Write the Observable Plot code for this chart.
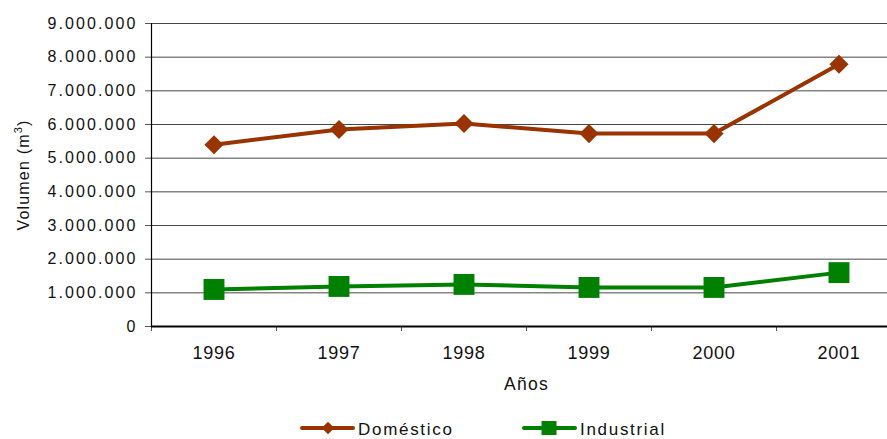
<!DOCTYPE html>
<html>
<head>
<meta charset="utf-8">
<script src="https://cdn.jsdelivr.net/npm/d3@7"></script>
<script src="https://cdn.jsdelivr.net/npm/@observablehq/plot@0.6"></script>
<style>
  html, body { margin: 0; padding: 0; background: #fff; overflow: hidden; }
  body { width: 887px; height: 439px; font-family: "Liberation Sans", Arial, sans-serif; }
  #chart svg text { fill: #111; }
  #chart svg .yax text { font-size: 16px; letter-spacing: 2.1px; }
  #chart svg .xax text { font-size: 18px; letter-spacing: 0.7px; }
  #chart svg .xlab text { font-size: 17.5px; letter-spacing: 1.3px; }
  #chart svg .ylab text { font-size: 16px; letter-spacing: 1.2px; }
  #legend { position: relative; width: 887px; height: 39px; font-size: 17px; letter-spacing: 1.7px; color: #111; }
  .item { position: absolute; top: 18px; height: 20px; }
  .item svg { position: absolute; left: 0; top: 0; }
  .item span { position: absolute; top: 2px; line-height: 20px; white-space: nowrap; }
</style>
</head>
<body>
<div id="chart"></div>
<div id="legend"></div>
<script>
const years = [1996, 1997, 1998, 1999, 2000, 2001];
const domestico = [5400000, 5850000, 6030000, 5730000, 5730000, 7790000];
const industrial = [1100000, 1190000, 1250000, 1160000, 1160000, 1600000];
const yTicks = [0, 1000000, 2000000, 3000000, 4000000, 5000000, 6000000, 7000000, 8000000, 9000000];
const seriesNames = ["Doméstico", "Industrial"];
const colors = ["#993300", "#008000"];

const dom = years.map((y, i) => ({year: y, value: domestico[i], serie: seriesNames[0]}));
const ind = years.map((y, i) => ({year: y, value: industrial[i], serie: seriesNames[1]}));
const boundaries = years.map(y => y - 0.5);

const fmt = v => v === 0 ? "0" : d3.format(",")(v).replace(/,/g, ".");

const chart = Plot.plot({
  width: 887,
  height: 400,
  marginTop: 23,
  marginBottom: 74,
  marginLeft: 151,
  marginRight: 0,
  style: {fontFamily: "'Liberation Sans', Arial, sans-serif", fontSize: "16px", color: "#111", background: "#fff", overflow: "hidden"},
  x: {type: "linear", domain: [1995.5, 2001.5], range: [151, 901]},
  y: {domain: [0, 9000000], range: [326, 23]},
  marks: [
    Plot.ruleY(yTicks.filter(d => d > 0), {stroke: "#000", strokeOpacity: 0.72, strokeWidth: 1}),
    Plot.axisY({ticks: yTicks, tickFormat: fmt, tickSize: 6, tickPadding: 8, label: null, stroke: "#555", fontSize: 16, className: "yax"}),
    Plot.axisX({ticks: years, tickSize: 0, tickPadding: 20, tickFormat: d => String(d), label: null, fontSize: 18, className: "xax"}),
    Plot.axisX({ticks: boundaries, tickSize: 5, tickFormat: () => "", label: null, stroke: "#555"}),
    Plot.ruleX([1995.5], {stroke: "#000", strokeWidth: 1.2}),
    Plot.ruleY([0], {stroke: "#000", strokeWidth: 2}),
    Plot.text(["Años"], {x: 1998.5, frameAnchor: "bottom", dy: 63, lineAnchor: "bottom", fontSize: 17.5, className: "xlab"}),
    Plot.text(["Volumen (m3)"], {frameAnchor: "left", dx: -123, rotate: -90, lineAnchor: "bottom", textAnchor: "middle", fontSize: 16, className: "ylab"}),
    Plot.line(dom, {x: "year", y: "value", stroke: colors[0], strokeWidth: 4}),
    Plot.line(ind, {x: "year", y: "value", stroke: colors[1], strokeWidth: 4}),
    Plot.dot(dom, {x: "year", y: "value", symbol: "diamond2", r: 8.6, fill: colors[0], stroke: "none"}),
    Plot.dot(ind, {x: "year", y: "value", symbol: "square", r: 11.8, fill: colors[1], stroke: "none"})
  ]
});
document.getElementById("chart").appendChild(chart);

// superscript in y label
const ylab = chart.querySelector(".ylab text");
if (ylab) {
  const ns = "http://www.w3.org/2000/svg";
  ylab.textContent = "";
  const t1 = document.createElementNS(ns, "tspan"); t1.textContent = "Volumen (m";
  const t2 = document.createElementNS(ns, "tspan"); t2.textContent = "3";
  t2.setAttribute("font-size", "11"); t2.setAttribute("dy", "-7");
  const t3 = document.createElementNS(ns, "tspan"); t3.textContent = ")"; t3.setAttribute("dy", "7");
  ylab.append(t1, t2, t3);
}

// Legend
const legend = document.getElementById("legend");
const items = [
  {name: seriesNames[0], color: colors[0], left: 300, shape: "diamond"},
  {name: seriesNames[1], color: colors[1], left: 522, shape: "square"}
];
items.forEach(it => {
  const div = document.createElement("div");
  div.className = "item";
  div.style.left = it.left + "px";
  const ns = "http://www.w3.org/2000/svg";
  const svg = document.createElementNS(ns, "svg");
  svg.setAttribute("width", 56);
  svg.setAttribute("height", 20);
  const line = document.createElementNS(ns, "line");
  line.setAttribute("x1", 2); line.setAttribute("x2", 53);
  line.setAttribute("y1", 10); line.setAttribute("y2", 10);
  line.setAttribute("stroke", it.color); line.setAttribute("stroke-width", 4);
  line.setAttribute("stroke-linecap", "round");
  svg.appendChild(line);
  const shape = document.createElementNS(ns, "path");
  shape.setAttribute("d", it.shape === "diamond" ? "M28,3.7L34.3,10L28,16.3L21.7,10Z" : "M19.5,3H34.5V17H19.5Z");
  shape.setAttribute("fill", it.color);
  svg.appendChild(shape);
  div.appendChild(svg);
  const span = document.createElement("span");
  span.textContent = it.name;
  span.style.left = "58px";
  div.appendChild(span);
  legend.appendChild(div);
});
</script>
</body>
</html>
